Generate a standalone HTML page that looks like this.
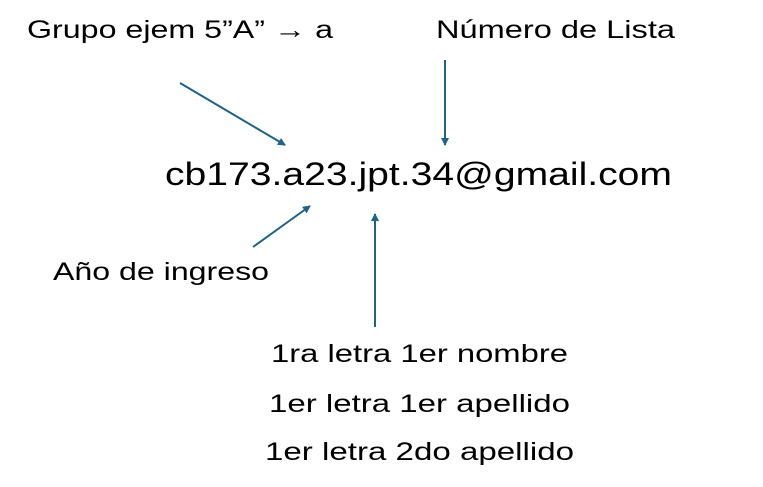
<!DOCTYPE html>
<html><head><meta charset="utf-8"><style>
html,body{margin:0;padding:0;background:#fff;}
</style></head><body>
<svg width="763" height="482" viewBox="0 0 763 482" xmlns="http://www.w3.org/2000/svg" font-family="Liberation Sans, sans-serif" fill="#000">
<defs><marker id="a" markerWidth="8" markerHeight="8" refX="7" refY="4" orient="auto" markerUnits="userSpaceOnUse"><path d="M0,0 L8,4 L0,8 z" fill="#1f6385"/></marker></defs>
<text x="27" y="38" font-size="25" textLength="306" lengthAdjust="spacingAndGlyphs">Grupo ejem 5”A” → a</text>
<text x="436" y="38" font-size="25" textLength="239" lengthAdjust="spacingAndGlyphs">Número de Lista</text>
<text x="165" y="185" font-size="32" textLength="507" lengthAdjust="spacingAndGlyphs">cb173.a23.jpt.34@gmail.com</text>
<text x="53" y="280" font-size="25" textLength="216" lengthAdjust="spacingAndGlyphs">Año de ingreso</text>
<text x="271" y="362" font-size="25" textLength="297" lengthAdjust="spacingAndGlyphs">1ra letra 1er nombre</text>
<text x="269" y="412" font-size="25" textLength="301" lengthAdjust="spacingAndGlyphs">1er letra 1er apellido</text>
<text x="265" y="460" font-size="25" textLength="309" lengthAdjust="spacingAndGlyphs">1er letra 2do apellido</text>
<g stroke="#1f6385" stroke-width="2" marker-end="url(#a)">
<line x1="180" y1="83" x2="285" y2="145"/>
<line x1="445" y1="60" x2="445" y2="145"/>
<line x1="253" y1="247" x2="310" y2="206"/>
<line x1="375" y1="327" x2="375" y2="214"/>
</g>
</svg>
</body></html>
